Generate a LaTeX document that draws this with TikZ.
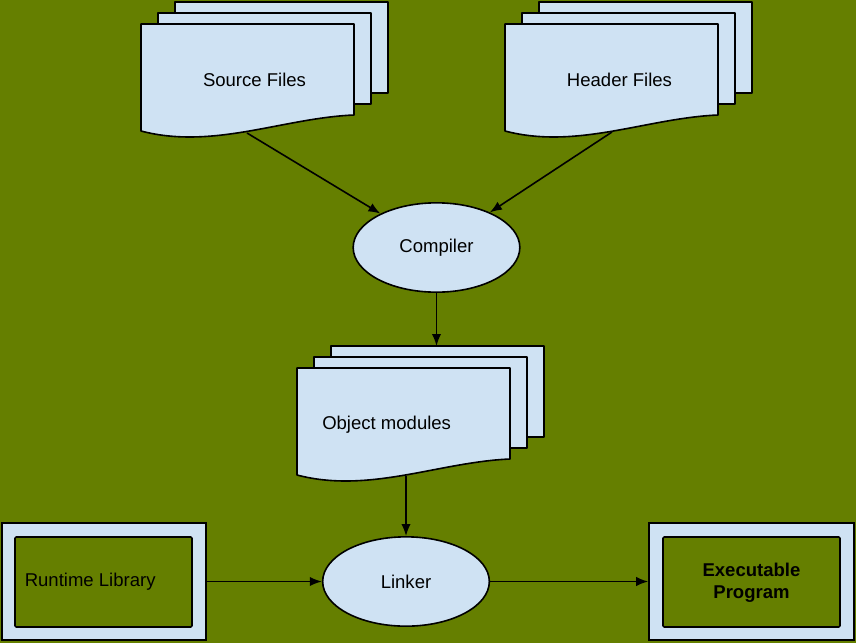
\documentclass[tikz,border=0pt]{standalone}
\usepackage{fontspec}
\setmainfont{Liberation Sans}
\usepackage{tikz}
\usetikzlibrary{positioning,arrows.meta,shapes.geometric}

\definecolor{olive}{RGB}{101,127,0}
\definecolor{paleblue}{RGB}{207,226,243}

\tikzset{
  page/.style={draw=black, fill=paleblue, line width=1.2pt, line join=round},
  proc/.style={ellipse, draw=black, fill=paleblue, line width=1.2pt, minimum width=125pt, minimum height=67pt},
  outerbox/.style={draw=black, fill=paleblue, line width=1.2pt, inner sep=0pt},
  innerbox/.style={draw=black, fill=olive, line width=1.2pt, rounded corners=1pt},
  txt/.style={font=\fontsize{13.9}{16.5}\selectfont, inner sep=0pt},
  arrow/.style={-{Latex[length=9pt,width=7pt]}, line width=1.2pt}
}

\begin{document}
\begin{tikzpicture}[x=0.75pt, y=-0.75pt]
        % Background
        \useasboundingbox (0,0) rectangle (856,643);
        \fill[olive] (0,0) rectangle (856,643);

        % Stacks of pages (two behind, one in front with wavy bottom)
        \foreach \px/\py in {141/24, 505/24, 297/368} {
            \foreach \d in {34,17} {
                \draw[page] (\px+\d,\py-0.647*\d) rectangle (\px+213+\d,\py+91-0.647*\d);
            }
            \draw[page] (\px,\py) -- (\px+213,\py) -- (\px+213,\py+91)
                .. controls (\px+142,\py+94) and (\px+72,\py+126) .. (\px,\py+107) -- cycle;
        }

        % Labels on the pages
        \node[txt] (srclabel) at (254.5,80) {Source Files};
        \node[txt] (hdrlabel) at (619.5,80) {Header Files};
        \node[txt, anchor=west] (objlabel) at (322,425) {Object modules};

        % Where the connectors leave or meet the pages
        \coordinate (srcout) at (247,133);
        \coordinate (hdrout) at (612,132);
        \coordinate (objtop) at (436.5,346);
        \coordinate (objout) at (406,476);

        % Compiler and linker
        \node[proc, txt] (compiler) at (436.5,247.5) {Compiler};
        \node[proc, txt] (linker) at (406,581.5) {Linker};

        % Runtime library
        \node[outerbox, minimum width=153pt, minimum height=87.75pt] (runtime) at (104,581.5) {};
        \draw[innerbox] (15,537) rectangle (192,627);
        \node[txt, anchor=west] (rtlabel) at (24.5,582) {Runtime Library};

        % Executable program
        \node[outerbox, minimum width=153.75pt, minimum height=87.75pt] (exec) at (751.5,581.5) {};
        \draw[innerbox] (663,537) rectangle (840,627);
        \node[txt, align=center, font=\fontsize{13.9}{16.5}\selectfont\bfseries] (exlabel) at (751.5,583) {Executable\\Program};

        % Connectors
        \draw[arrow] (srcout) -- (compiler);
        \draw[arrow] (hdrout) -- (compiler);
        \draw[arrow] (compiler) -- (objtop);
        \draw[arrow] (objout) -- (linker);
        \draw[arrow] (runtime) -- (linker);
        \draw[arrow] (linker) -- (exec);
    \end{tikzpicture}
\end{document}
